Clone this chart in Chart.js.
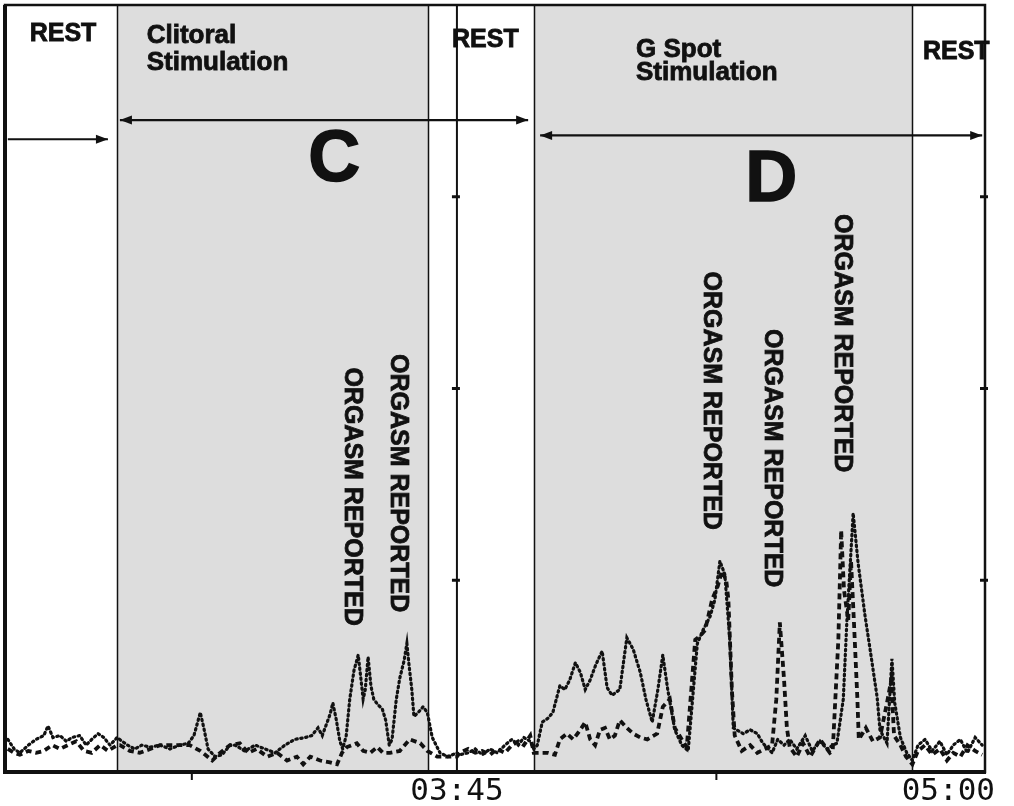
<!DOCTYPE html>
<html>
<head>
<meta charset="utf-8">
<script src="https://cdn.jsdelivr.net/npm/chart.js@4.4.0/dist/chart.umd.min.js"></script>
<style>
  html, body { margin: 0; padding: 0; background: #fff; }
  canvas { display: block; }
</style>
</head>
<body>
<canvas id="trace" width="1014" height="806"></canvas>
<script>
// seconds from 02:41, level in arbitrary units (0-40)
const dottedTime = [0.4,1.3,2.1,3.3,4.4,5.5,6.1,6.8,7.8,8.7,9.5,10.6,11.5,12.3,13.2,14.0,14.9,15.9,
  16.6,17.4,18.4,19.4,20.6,22.0,23.4,24.8,26.0,26.8,27.7,28.2,28.8,29.8,30.8,31.9,32.6,34.0,35.5,36.9,38.3,39.7,41.1,42.6,43.5,44.4,45.0,45.5,46.1,46.5,47.0,47.5,47.9,48.4,48.9,49.5,50.1,50.5,50.8,51.1,51.5,51.9,52.3,52.9,53.5,54.0,54.5,54.9,55.5,56.0,56.6,57.0,57.3,57.7,58.0,58.6,59.3,59.9,60.6,61.7,62.8,64.1,
  64.5,65.7,66.7,67.7,68.8,69.8,70.9,71.9,72.8,73.6,74.5,75.0,
  75.5,76.2,77.0,77.7,78.7,79.4,80.1,80.9,81.6,82.3,83.0,83.8,84.7,85.4,86.1,87.2,88.2,89.1,90.1,90.9,91.8,92.6,93.3,94.0,95.0,96.0,96.9,98.2,99.0,100.0,100.7,101.4,102.1,102.8,103.3,104.7,105.7,106.7,107.5,108.8,109.6,110.5,111.3,112.3,113.5,114.5,115.6,116.6,117.4,118.0,118.9,119.4,120.1,120.3,121.0,122.0,122.7,123.7,124.1,125.1,125.8,126.2,127.0,127.9,
  128.7,129.5,130.5,131.5,132.6,133.6,134.5,135.5,136.5,137.6,138.6];
const dottedLevel = [1.7,1.2,1.0,1.4,1.7,1.9,2.4,1.8,1.9,1.6,1.8,1.9,1.4,1.7,2.0,1.8,1.4,1.8,
  1.6,1.4,1.2,1.4,1.3,1.4,1.2,1.4,1.5,1.9,3.1,2.3,1.2,0.8,0.9,1.4,1.4,1.1,1.4,1.2,1.0,1.4,1.7,1.8,1.9,2.3,1.9,2.4,3.0,3.6,2.7,1.6,1.2,1.9,3.8,5.3,6.1,4.8,3.8,4.3,6.0,4.5,3.8,3.5,3.3,2.7,1.4,1.7,3.8,4.9,5.8,6.7,5.6,4.3,2.9,3.1,3.4,3.1,1.8,1.0,0.8,1.0,
  0.9,1.0,1.2,0.9,1.2,1.0,1.4,1.7,1.4,1.8,1.6,1.2,
  1.4,2.6,2.8,3.1,4.5,4.3,4.8,5.7,5.2,4.3,4.8,5.6,6.3,4.4,4.0,4.3,7.0,6.4,5.2,3.8,2.6,4.3,6.1,4.3,2.2,1.4,1.1,6.7,7.4,8.1,9.0,11.0,10.3,6.9,2.3,2.0,2.2,2.0,1.5,1.0,1.7,1.4,1.7,1.2,1.9,1.1,1.6,1.2,1.4,1.5,3.8,7.8,12.2,13.5,10.9,8.1,6.4,3.9,2.2,1.5,5.9,3.6,1.8,1.0,
  0.6,1.4,1.7,1.1,1.6,0.9,1.4,1.7,1.0,1.8,1.4];

const dashedTime = [0.4,1.3,2.1,3.3,4.4,5.5,6.7,7.8,8.9,10.1,11.2,12.3,13.5,14.6,15.9,
  16.3,17.7,19.1,20.6,22.0,23.4,24.8,26.2,27.7,28.4,29.4,30.5,31.9,33.3,34.5,35.7,37.2,38.6,40.0,41.4,42.3,43.3,44.7,46.1,47.1,47.8,48.5,49.9,50.8,51.8,52.8,53.6,54.6,56.0,57.4,58.9,59.9,61.3,62.7,64.1,
  64.5,65.7,66.7,67.7,68.8,69.8,70.9,71.9,72.8,73.6,74.5,75.0,
  75.9,77.0,78.0,78.7,79.7,80.6,81.6,82.3,83.0,83.7,84.4,85.1,85.8,86.5,87.2,88.2,89.1,90.1,91.1,92.5,93.3,94.3,95.0,96.0,96.7,97.9,98.6,99.3,100.3,101.1,101.7,102.3,102.6,103.1,103.5,104.5,105.7,106.7,107.8,108.8,109.4,109.9,110.5,110.9,111.3,112.3,113.2,114.2,115.6,117.0,117.4,118.2,118.6,119.0,119.6,120.0,120.4,120.9,121.1,122.1,123.1,124.1,125.2,125.7,126.1,127.0,127.8,
  128.7,129.5,130.5,131.5,132.6,133.6,134.5,135.5,136.5,137.6,138.6];
const dashedLevel = [1.2,1.0,0.9,1.1,1.0,1.1,1.4,1.2,1.4,1.6,1.1,1.0,1.4,1.1,1.4,
  1.4,1.1,1.0,1.2,1.4,1.4,1.4,1.4,1.1,0.9,0.6,1.0,1.4,1.5,1.0,1.2,0.8,1.0,0.6,0.8,0.4,0.8,0.6,0.5,0.4,1.0,1.3,1.5,1.1,1.0,1.3,1.0,1.0,1.1,1.7,1.5,1.1,0.8,0.8,0.8,
  1.0,1.2,1.0,1.1,0.9,1.2,1.0,1.4,1.6,1.4,1.9,1.0,
  1.0,1.0,0.9,1.7,2.0,1.7,2.2,2.6,1.7,1.4,2.2,2.3,1.7,1.9,2.7,2.3,2.0,1.8,1.7,2.0,3.4,3.8,2.3,1.7,1.3,6.9,7.1,7.4,9.0,9.7,10.5,10.0,9.0,4.3,1.9,1.1,1.4,1.0,1.2,1.4,3.8,7.8,4.8,2.3,1.3,0.8,1.5,0.8,1.7,1.0,1.1,6.9,12.6,9.5,7.9,11.0,7.9,3.8,1.7,2.3,1.6,1.8,3.8,4.8,1.9,1.4,0.8,
  0.4,1.1,1.4,0.9,1.2,0.6,1.0,0.8,1.4,1.1,0.9];

const stimEdges = [15.9, 60.0, 75.0, 128.7];
const panelDivider = 64.1;
const levelTicks = [10, 20, 30];
const timeTicks = [26.5, 100.9];
const timeLabelAt = [64.1, 133.8];
const timeLabelText = ["03:45", "05:00"];
const orgasmAt = [[48.2, 21.1], [54.8, 21.8], [99.1, 26.1], [107.8, 23.1], [117.7, 29.1]];

const pts = (xs, ys) => xs.map((x, i) => ({ x, y: ys[i] }));

const annotate = {
  id: "annotate",
  beforeDatasetsDraw(chart) {
    const { ctx, chartArea: a, scales: { x } } = chart;
    ctx.save();
    ctx.fillStyle = "#dddddd";
    for (let i = 0; i < stimEdges.length; i += 2) {
      const x0 = x.getPixelForValue(stimEdges[i]), x1 = x.getPixelForValue(stimEdges[i + 1]);
      ctx.fillRect(x0, a.top, x1 - x0, a.bottom - a.top);
    }
    ctx.strokeStyle = "#111"; ctx.lineWidth = 1.5;
    stimEdges.forEach((v) => { const px = Math.round(x.getPixelForValue(v)) + 0.5; ctx.beginPath(); ctx.moveTo(px, a.top); ctx.lineTo(px, a.bottom); ctx.stroke(); });
    ctx.lineWidth = 2;
    const dx = x.getPixelForValue(panelDivider);
    ctx.beginPath(); ctx.moveTo(dx, a.top); ctx.lineTo(dx, a.bottom); ctx.stroke();
    ctx.restore();
  },
  afterDatasetsDraw(chart) {
    const { ctx, chartArea: a, scales: { x, y } } = chart;
    const X = (v) => x.getPixelForValue(v), Y = (v) => y.getPixelForValue(v);
    ctx.save();
    ctx.strokeStyle = "#111"; ctx.fillStyle = "#111";
    // frame
    ctx.lineWidth = 2.5; ctx.strokeRect(a.left, a.top, a.right - a.left, a.bottom - a.top);
    ctx.lineWidth = 4;
    ctx.beginPath(); ctx.moveTo(a.left, a.top); ctx.lineTo(a.left, a.bottom); ctx.lineTo(a.right + 1, a.bottom); ctx.stroke();
    // level ticks on the right edge of each panel
    ctx.lineWidth = 3;
    [X(panelDivider), a.right].forEach((px) => levelTicks.forEach((v) => {
      ctx.beginPath(); ctx.moveTo(px - 5, Y(v)); ctx.lineTo(px + 3, Y(v)); ctx.stroke();
    }));
    ctx.lineWidth = 2;
    timeTicks.forEach((v) => { ctx.beginPath(); ctx.moveTo(X(v), a.bottom); ctx.lineTo(X(v), a.bottom + 8); ctx.stroke(); });
    ctx.font = "31px 'DejaVu Sans Mono', monospace"; ctx.textAlign = "center"; ctx.textBaseline = "alphabetic";
    timeLabelText.forEach((t, i) => ctx.fillText(t, X(timeLabelAt[i]), a.bottom + 28));

    // arrows
    const arrow = (x0, x1, yv, heads) => {
      const py = Y(yv), p0 = X(x0), p1 = X(x1);
      ctx.lineWidth = 2.2; ctx.beginPath(); ctx.moveTo(p0, py); ctx.lineTo(p1, py); ctx.stroke();
      const head = (px, dir) => { ctx.beginPath(); ctx.moveTo(px, py); ctx.lineTo(px - dir * 12, py - 4.5); ctx.lineTo(px - dir * 12, py + 4.5); ctx.closePath(); ctx.fill(); };
      if (heads.includes("r")) head(p1, 1);
      if (heads.includes("l")) head(p0, -1);
    };
    arrow(0.4, 14.6, 33.0, "r");
    arrow(16.3, 74.2, 34.0, "lr");
    arrow(75.9, 138.6, 33.2, "lr");

    // phase labels, a thin stroke thickens them like the scanned original
    const label = (s, px, py) => { ctx.fillText(s, px, py); ctx.strokeText(s, px, py); };
    ctx.textAlign = "left"; ctx.lineWidth = 0.8;
    ctx.font = "bold 25px 'Liberation Sans', Arial, sans-serif";
    label("REST", X(3.5), Y(38.1));
    label("REST", X(63.4), Y(37.8));
    label("REST", X(130.2), Y(37.2));
    ctx.font = "bold 26px 'Liberation Sans', Arial, sans-serif";
    label("Clitoral", X(20.1), Y(38.0));
    label("Stimulation", X(20.1), Y(36.6));
    label("G Spot", X(89.5), Y(37.3));
    label("Stimulation", X(89.5), Y(36.1));
    ctx.font = "bold 72px 'Liberation Sans', Arial, sans-serif";
    ctx.lineWidth = 1.5;
    label("C", X(43.0), Y(30.8));
    label("D", X(105.0), Y(29.8));

    ctx.font = "bold 25px 'Liberation Sans', Arial, sans-serif";
    ctx.lineWidth = 0.8;
    orgasmAt.forEach(([t, v]) => {
      ctx.save(); ctx.translate(X(t), Y(v)); ctx.rotate(Math.PI / 2);
      label("ORGASM REPORTED", 0, 0); ctx.restore();
    });
    ctx.restore();
  },
};

new Chart(document.getElementById("trace"), {
  type: "line",
  data: {
    datasets: [
      { data: pts(dottedTime, dottedLevel), borderColor: "#111", borderWidth: 3.2, borderDash: [1.5, 3.5], borderCapStyle: "round", pointRadius: 0, tension: 0 },
      { data: pts(dashedTime, dashedLevel), borderColor: "#111", borderWidth: 3.8, borderDash: [6, 4], pointRadius: 0, tension: 0 },
    ],
  },
  options: {
    responsive: false,
    animation: false,
    layout: { padding: { left: 5, right: 29, top: 5, bottom: 34 } },
    scales: {
      x: { type: "linear", min: 0, max: 139, display: false },
      y: { min: 0, max: 40, display: false },
    },
    plugins: { legend: { display: false }, tooltip: { enabled: false } },
  },
  plugins: [annotate],
});
</script>
</body>
</html>
